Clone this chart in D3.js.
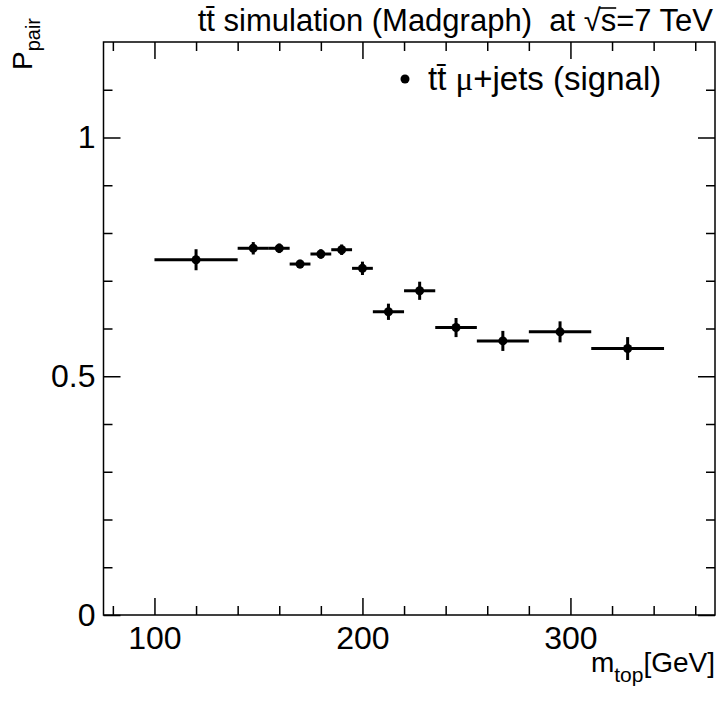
<!DOCTYPE html>
<html>
<head>
<meta charset="utf-8">
<script src="https://cdn.jsdelivr.net/npm/d3@7"></script>
<style>
  body { margin: 0; background: #fff; }
  svg { display: block; font-family: "Liberation Sans", Arial, sans-serif; }
  .axis path, .axis line { stroke: #000; stroke-width: 1.5px; }
  .axis text { font-size: 32px; fill: #000; font-family: "Liberation Sans", Arial, sans-serif; }
</style>
</head>
<body>
<svg id="chart" width="722" height="706"></svg>
<script>
// bin edges in m_top [GeV]
const binLow  = [100, 140, 155, 165, 175, 185, 195, 205, 220, 235, 255, 280, 310];
const binHigh = [140, 155, 165, 175, 185, 195, 205, 220, 235, 255, 280, 310, 345];
// P_pair per bin and its error
const pPair = [0.744, 0.768, 0.768, 0.735, 0.756, 0.765, 0.726, 0.635, 0.679, 0.602, 0.574, 0.593, 0.558];
const pErr  = [0.022, 0.013, 0.010, 0.009, 0.010, 0.011, 0.014, 0.017, 0.019, 0.020, 0.021, 0.022, 0.024];
const xMajor = [100, 200, 300];
const yMajor = [0, 0.5, 1];
const yTickLabels = ["0", "0.5", "1"];

const svg = d3.select("#chart");
const fLeft = 103.5, fRight = 715, fTop = 42, fBottom = 615;
const w = fRight - fLeft, h = fBottom - fTop;

const x = d3.scaleLinear().domain([75.5, 369.5]).range([fLeft, fRight]);
const y = d3.scaleLinear().domain([0, 1.2]).range([fBottom, fTop]);

const xMinor = d3.range(80, 369, 20).filter(v => !xMajor.includes(v));
const yMinor = d3.range(0.1, 1.2, 0.1).map(v => +v.toFixed(2)).filter(v => !yMajor.includes(v));

// frame
svg.append("rect")
  .attr("x", fLeft).attr("y", fTop).attr("width", w).attr("height", h)
  .attr("fill", "none").attr("stroke", "#000").attr("stroke-width", 1.5);

// bottom axis
svg.append("g").attr("class", "axis")
  .attr("transform", "translate(0," + fBottom + ")")
  .call(d3.axisBottom(x).tickValues(xMajor).tickSize(-17).tickPadding(11).tickFormat(d3.format("d")))
  .call(g => g.select(".domain").remove());
svg.append("g").attr("class", "axis")
  .attr("transform", "translate(0," + fBottom + ")")
  .call(d3.axisBottom(x).tickValues(xMinor).tickSize(-9).tickFormat(""))
  .call(g => g.select(".domain").remove());

// top axis (ticks only)
svg.append("g").attr("class", "axis")
  .attr("transform", "translate(0," + fTop + ")")
  .call(d3.axisTop(x).tickValues(xMajor).tickSize(-17).tickFormat(""))
  .call(g => g.select(".domain").remove());
svg.append("g").attr("class", "axis")
  .attr("transform", "translate(0," + fTop + ")")
  .call(d3.axisTop(x).tickValues(xMinor).tickSize(-9).tickFormat(""))
  .call(g => g.select(".domain").remove());

// left axis
svg.append("g").attr("class", "axis")
  .attr("transform", "translate(" + fLeft + ",0)")
  .call(d3.axisLeft(y).tickValues(yMajor).tickSize(-17).tickPadding(8)
    .tickFormat((d, i) => yTickLabels[i]))
  .call(g => g.select(".domain").remove());
svg.append("g").attr("class", "axis")
  .attr("transform", "translate(" + fLeft + ",0)")
  .call(d3.axisLeft(y).tickValues(yMinor).tickSize(-9).tickFormat(""))
  .call(g => g.select(".domain").remove());

// right axis (ticks only)
svg.append("g").attr("class", "axis")
  .attr("transform", "translate(" + fRight + ",0)")
  .call(d3.axisRight(y).tickValues(yMajor).tickSize(-17).tickFormat(""))
  .call(g => g.select(".domain").remove());
svg.append("g").attr("class", "axis")
  .attr("transform", "translate(" + fRight + ",0)")
  .call(d3.axisRight(y).tickValues(yMinor).tickSize(-9).tickFormat(""))
  .call(g => g.select(".domain").remove());

// data points
const pts = binLow.map((lo, i) => ({ lo, hi: binHigh[i], v: pPair[i], e: pErr[i] }));
const g = svg.append("g");
g.selectAll("line.xerr").data(pts).enter().append("line")
  .attr("x1", d => x(d.lo)).attr("x2", d => x(d.hi))
  .attr("y1", d => y(d.v)).attr("y2", d => y(d.v))
  .attr("stroke", "#000").attr("stroke-width", 3);
g.selectAll("line.yerr").data(pts).enter().append("line")
  .attr("x1", d => x((d.lo + d.hi) / 2)).attr("x2", d => x((d.lo + d.hi) / 2))
  .attr("y1", d => y(d.v - d.e)).attr("y2", d => y(d.v + d.e))
  .attr("stroke", "#000").attr("stroke-width", 3);
g.selectAll("circle").data(pts).enter().append("circle")
  .attr("cx", d => x((d.lo + d.hi) / 2)).attr("cy", d => y(d.v))
  .attr("r", 4.5).attr("fill", "#000");

// title
const titleStr = "tt\u0304 simulation (Madgraph)  at \u221As=7 TeV";
const title = svg.append("text")
  .attr("x", 713).attr("y", 31).attr("text-anchor", "end")
  .attr("font-size", 31).attr("fill", "#000")
  .style("white-space", "pre")
  .text(titleStr);
// bar of the square root over "s"
const sIdx = titleStr.indexOf("\u221A") + 1;
const tn = title.node();
const barX1 = tn.getStartPositionOfChar(sIdx).x - 1;
const barX2 = tn.getEndPositionOfChar(sIdx).x;
svg.append("line")
  .attr("x1", barX1).attr("x2", barX2).attr("y1", 8).attr("y2", 8)
  .attr("stroke", "#000").attr("stroke-width", 1.6);

// legend
svg.append("circle").attr("cx", 405).attr("cy", 79).attr("r", 4.5).attr("fill", "#000");
const leg = svg.append("text")
  .attr("x", 428).attr("y", 90).attr("font-size", 33).attr("fill", "#000")
  .style("white-space", "pre");
leg.append("tspan").text("tt\u0304 ");
leg.append("tspan").attr("font-family", "Liberation Serif").text("\u03BC");
leg.append("tspan").text("+jets (signal)");

// x axis title
const xt = svg.append("text")
  .attr("x", 715).attr("y", 672).attr("text-anchor", "end")
  .attr("font-size", 28).attr("fill", "#000");
xt.append("tspan").text("m");
xt.append("tspan").attr("font-size", 21).attr("dy", 10).text("top");
xt.append("tspan").attr("dy", -10).text("[GeV]");

// y axis title
const yt = svg.append("text")
  .attr("transform", "translate(32,18) rotate(-90)")
  .attr("text-anchor", "end")
  .attr("font-size", 28).attr("fill", "#000");
yt.append("tspan").text("P");
yt.append("tspan").attr("font-size", 20).attr("dy", 8).text("pair");
</script>
</body>
</html>
